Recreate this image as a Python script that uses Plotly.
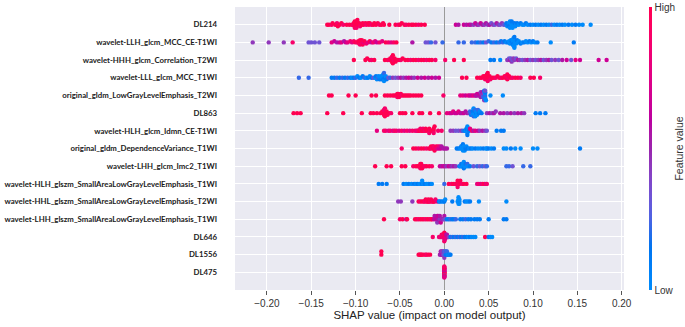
import numpy as np
import plotly.graph_objects as go

# ---------------- data (SHAP values in thousandths, feature value 0-9) ----------------
features = [
    "DL214",
    "wavelet-LLH_glcm_MCC_CE-T1WI",
    "wavelet-HHH_glcm_Correlation_T2WI",
    "wavelet-LLL_glcm_MCC_T1WI",
    "original_gldm_LowGrayLevelEmphasis_T2WI",
    "DL863",
    "wavelet-HLH_glcm_Idmn_CE-T1WI",
    "original_gldm_DependenceVariance_T1WI",
    "wavelet-LHH_glcm_Imc2_T1WI",
    "wavelet-HLH_glszm_SmallAreaLowGrayLevelEmphasis_T1WI",
    "wavelet-HHL_glszm_SmallAreaLowGrayLevelEmphasis_T2WI",
    "wavelet-LHH_glszm_SmallAreaLowGrayLevelEmphasis_T1WI",
    "DL646",
    "DL1556",
    "DL475",
]

x_ticks = [-0.20, -0.15, -0.10, -0.05, 0.00, 0.05, 0.10, 0.15, 0.20]

dl214 = [(-132,9),(-130,9),(-127,8),(-126,9),(-123,9),(-121,9),(-121,8),(-120,9),(-118,9),(-116,9),(-114,8),(-110,9),(-107,9),(-104,9),(-103,8),(-102,9),(-101,9),(-101,9),(-101,8),(-100,9),(-100,9),(-100,9),(-99,9),(-99,8),(-98,9),(-97,9),(-96,9),(-95,8),(-93,9),(-92,9),(-91,9),(-89,9),(-88,8),(-86,9),(-85,9),(-84,9),(-82,8),(-80,9),(-79,9),(-77,9),(-75,9),(-73,8),(-71,9),(-69,9),(-68,9),(-62,9),(-55,9),(-52,8),(-50,9),(-48,9),(-45,9),(-43,8),(-40,9),(-37,9),(-35,9),(-32,9),(-29,8),(-26,9),(-22,9),
         (13,6),(16,5),(22,6),(25,5),(28,6),(30,5),(33,4),(35,6),(37,5),(39,4),(41,6),(43,5),(45,4),(47,5),(49,4),(51,5),(53,3),(55,4),(57,3),(59,5),(61,4),(63,3),(65,4),(67,3),(69,2),(70,1),(71,0),(72,1),(73,0),(73,1),(74,0),(74,0),(75,1),(75,0),(76,0),(76,1),(77,0),(78,0),(79,1),(80,0),(81,0),(82,1),(84,0),(86,1),(88,0),(90,0),(92,1),(94,0),(97,1),(100,0),(103,1),(106,0),(109,1),(112,0),(115,1),(118,0),(121,2),(124,0),(127,1),(130,0),(133,1),(136,0),(140,1),(144,0),(148,1),(152,0),(156,0),(165,0)]

llh_mcc_ce = [(-216,4),(-198,4),(-181,4),(-171,8),(-153,3),(-150,3),(-146,3),(-141,3),(-127,7),(-124,6),(-121,5),(-118,6),(-116,7),(-113,5),(-111,6),(-109,7),(-106,8),(-104,7),(-102,8),(-100,9),(-98,8),(-97,9),(-96,9),(-95,9),(-95,8),(-94,9),(-94,9),(-93,8),(-93,9),(-92,9),(-91,7),(-90,9),(-88,8),(-86,7),(-84,9),(-82,6),(-80,8),(-78,7),(-76,6),(-73,8),(-70,7),(-66,9),(-63,8),(-60,7),(-57,8),(-54,9),(-36,5),(-21,3),(-18,3),(-15,2),(-10,3),(-2,2),(16,2),(22,2),
              (31,2),(35,2),(38,1),(41,2),(44,1),(47,3),(50,2),(53,1),(56,2),(59,1),(62,2),(64,1),(66,2),(68,1),(70,0),(72,1),(73,0),(74,0),(75,0),(76,0),(76,1),(77,0),(77,0),(77,1),(78,0),(78,0),(78,0),(79,0),(79,1),(79,0),(80,0),(80,0),(81,0),(82,1),(83,0),(84,0),(86,1),(88,0),(90,1),(92,0),(94,0),(96,1),(98,0),(100,1),(102,0),(105,1),(120,0),(146,1)]

hhh_corr = [(-102,9),(-89,9),(-87,9),(-84,9),(-82,8),(-79,9),(-67,9),(-64,9),(-62,8),(-61,9),(-60,9),(-59,9),(-59,9),(-59,8),(-58,9),(-58,9),(-57,8),(-56,9),(-55,9),(-53,9),(-51,9),(-49,8),(-47,9),(-44,9),(-41,9),(-38,8),(-35,9),(-32,9),(-29,8),(-26,9),(-23,9),(-20,8),(-17,9),(-14,9),(-10,8),(1,8),(11,9),(22,9),
            (52,1),(56,1),(63,0),(71,4),(73,3),(74,5),(75,3),(76,4),(77,3),(78,4),(79,4),(81,3),(83,5),(85,4),(88,3),(91,4),(94,5),(97,3),(100,4),(103,3),(106,4),(109,5),(112,3),(115,4),(118,5),(121,3),(125,4),(129,3),(133,5),(138,6),(143,3),(148,7),(153,6),(174,6),(183,6)]

lll_mcc = [(-164,2),(-153,2),(-127,1),(-124,1),(-121,2),(-118,1),(-115,2),(-112,1),(-109,2),(-106,1),(-104,0),(-102,1),(-100,2),(-98,0),(-96,1),(-94,0),(-92,1),(-90,2),(-88,0),(-86,1),(-84,0),(-82,1),(-80,3),(-78,0),(-77,1),(-76,0),(-75,2),(-74,0),(-73,1),(-72,0),(-71,0),(-71,1),(-70,0),(-70,0),(-69,1),(-69,0),(-68,0),(-68,2),(-67,1),(-66,0),(-65,1),(-63,3),(-61,2),(-58,4),(-55,3),(-52,4),(-49,5),(-46,4),(-43,5),(-40,6),(-37,5),(-34,4),(-30,6),(-26,5),(-22,6),(-18,5),(-14,6),(-10,5),(-6,6),
           (20,9),(25,9),(37,9),(40,9),(42,9),(44,9),(45,9),(46,9),(46,8),(47,9),(47,9),(48,9),(48,9),(49,8),(49,9),(50,9),(51,9),(52,8),(54,9),(56,9),(58,8),(60,9),(62,9),(64,8),(66,9),(68,9),(69,9),(70,8),(71,9),(71,9),(72,8),(73,9),(75,9),(77,8),(80,9),(83,9),(86,8),(97,9),(101,9),(108,8)]

low_gray = [(-130,9),(-127,9),(-108,9),(-100,9),(-82,9),(-77,9),(-67,9),(-64,9),(-61,9),(-58,9),(-56,9),(-54,9),(-53,9),(-53,8),(-52,9),(-52,9),(-51,9),(-50,9),(-49,9),(-48,8),(-46,9),(-44,9),(-42,9),(-40,9),(-38,9),(-35,9),(-32,9),(-29,9),(-26,9),(-1,8),
            (18,7),(21,7),(24,6),(27,7),(29,6),(31,6),(33,7),(35,6),(36,5),(37,6),(38,5),(39,6),(40,5),(40,6),(41,5),(41,4),(42,5),(42,4),(43,4),(43,5),(44,3),(44,4),(44,2),(45,3),(45,2),(45,1),(45,4),(46,1),(46,0),(46,2),(46,1),(46,0),(46,3),(47,0),(52,0),(66,0)]

dl863 = [(-170,9),(-166,9),(-162,9),(-132,9),(-114,9),(-93,9),(-83,9),(-80,9),(-76,9),(-72,9),(-70,9),(-69,9),(-68,9),(-68,9),(-68,8),(-67,9),(-67,8),(-66,9),(-65,9),(-64,9),(-62,9),(-60,8),(-50,9),(-47,9),(-44,9),(-36,9),(-28,9),(-25,9),(-16,9),(-6,9),
         (3,7),(6,7),(8,6),(10,7),(12,6),(14,6),(16,7),(18,6),(20,5),(22,6),(24,5),(26,5),(28,4),(29,2),(30,1),(31,2),(32,1),(32,0),(33,1),(33,2),(33,0),(34,0),(34,1),(34,0),(35,2),(35,0),(36,1),(36,0),(37,0),(38,2),(39,1),(40,0),(42,1),(48,4),(51,5),(54,4),(56,5),(58,4),(63,5),(67,5),(71,4),(75,5),(79,4),(83,5),(87,5),(90,4),(103,1),(108,1),(114,1)]

hlh_idmn = [(-76,7),(-68,8),(-66,8),(-63,7),(-61,8),(-58,7),(-56,8),(-54,8),(-51,7),(-48,8),(-45,7),(-42,8),(-39,7),(-36,8),(-33,8),(-31,7),(-30,8),(-29,8),(-28,9),(-27,8),(-26,8),(-25,9),(-24,8),(-23,9),(-22,8),(-21,9),(-20,9),(-17,9),(-17,9),(-17,8),(-16,8),(-15,9),(-12,9),(-12,9),(-12,8),(-11,9),(-7,8),(-3,8),
            (7,4),(10,4),(13,3),(16,3),(19,4),(21,2),(23,1),(24,0),(25,0),(25,1),(26,0),(26,0),(26,1),(27,0),(27,0),(28,1),(29,7),(31,8),(33,5),(35,7),(38,6),(40,4),(43,5),(46,4),(48,3),(59,1),(64,1),(67,1)]

dep_var = [(-48,8),(-35,9),(-32,9),(-29,8),(-26,9),(-23,9),(-20,8),(-17,9),(-16,9),(-15,9),(-14,8),(-13,9),(-12,9),(-12,8),(-11,9),(-10,8),(-9,9),(-8,7),(-7,8),(-6,6),(-5,7),(-4,6),(-3,5),(-1,5),(1,5),(3,5),
           (14,1),(16,1),(18,0),(19,1),(20,0),(20,0),(21,0),(21,1),(22,0),(22,0),(23,0),(24,1),(25,0),(26,1),(28,0),(30,1),(32,0),(35,1),(38,0),(41,0),(44,1),(47,0),(48,0),(50,1),(53,0),(56,1),(67,0),(70,0),(75,1),(80,0),(86,0),(100,0),(105,0),(153,1)]

lhh_imc2 = [(-78,9),(-65,9),(-60,9),(-48,9),(-44,9),(-35,8),(-32,9),(-30,9),(-28,9),(-27,9),(-27,8),(-26,9),(-26,9),(-25,9),(-24,9),(-22,8),(-20,9),(-17,9),(-14,8),(-5,6),(-3,5),(-1,6),(1,5),(3,4),(5,6),(7,5),(9,4),(11,5),(13,4),
            (17,1),(18,0),(19,2),(20,0),(20,1),(21,0),(21,0),(22,1),(22,0),(23,0),(24,1),(25,0),(26,2),(27,0),(29,1),(33,3),(37,2),(40,3),(43,2),(46,3),(48,2),(70,2),(73,2),(77,3),(89,2),(97,2)]

hlh_glszm = [(-74,1),(-70,1),(-65,1),(-46,1),(-43,0),(-40,1),(-37,0),(-34,1),(-32,0),(-30,1),(-28,0),(-26,0),(-25,1),(-25,0),(-24,0),(-23,0),(-22,1),(-20,0),(-18,0),(-16,1),(-14,0),(0,2),
             (5,9),(8,8),(10,9),(12,9),(13,8),(14,9),(15,9),(15,9),(15,8),(16,8),(17,9),(18,9),(20,8),(22,9),(25,9),(37,7),(39,8),(41,7),(43,8),(45,9),(47,7),(48,8)]

hhl_glszm = [(-52,4),(-49,4),(-36,4),(-29,9),(-27,8),(-25,9),(-23,9),(-22,8),(-21,9),(-20,9),(-19,8),(-18,9),(-18,9),(-17,9),(-16,8),(-15,9),(-14,9),(-13,8),(-12,9),(-11,9),(-10,8),(-8,7),(-6,1),(-5,0),(-3,1),(-1,0),(0,1),(1,0),(9,1),
             (15,0),(16,0),(16,0),(16,0),(16,0),(17,0),(17,0),(17,0),(23,1),(25,0),(27,0),(29,1),(39,0),(70,0)]

lhh_glszm = [(-68,9),(-50,8),(-47,9),(-43,5),(-42,9),(-33,9),(-31,9),(-29,8),(-27,9),(-25,9),(-23,9),(-21,8),(-19,9),(-17,9),(-15,8),(-14,9),(-12,6),(-11,5),(-10,5),(-9,6),(-8,5),(-8,4),(-7,5),(-7,6),(-6,5),(-5,4),(-5,5),(-4,6),(-3,4),(-2,5),(-1,4),(0,5),(1,3),
             (3,1),(5,1),(7,2),(9,1),(11,1),(13,2),(18,1),(21,1),(24,2),(27,1),(30,1),(34,1),(37,1),(40,1),(50,1),(67,1),(70,1)]

dl646 = [(-13,8),(-6,7),(-5,8),(-4,7),(-3,9),(-3,8),(-2,7),(-2,9),(-1,8),(-1,7),(0,9),(0,8),(0,7),(0,9),(0,8),(1,8),(1,9),(1,7),(2,8),(2,6),(3,7),(3,5),(4,6),(5,4),
         (7,1),(9,2),(11,1),(13,2),(15,1),(17,2),(19,1),(21,2),(23,1),(25,1),(27,0),(29,1),(31,0),(33,0),(35,0),(46,9),(50,1),(52,0),(54,0)]

dl1556 = [(-71,9),(-71,9),(-29,9),(-28,9),(-27,9),(-26,9),(-25,9),(-23,9),(-21,9),(-20,8),(-18,9),(-16,9),
          (-5,5),(-4,4),(-4,5),(-3,5),(-3,4),(-2,5),(-2,4),(-1,3),(-1,4),(0,3),(0,2),(0,4),(1,2),(1,3),(2,1),(2,2),(3,1),(3,2),(4,0),(5,1),(6,0),(7,1)]

dl475 = [(0,9),(0,8),(0,9),(0,7),(0,9),(0,6),(0,8),(0,5),(0,9),(0,7),(0,4),(0,8),(0,9),(0,6),(0,7),(0,8),(0,5),(0,9),(0,7),(0,8)]

rows = [dl214, llh_mcc_ce, hhh_corr, lll_mcc, low_gray, dl863, hlh_idmn, dep_var,
        lhh_imc2, hlh_glszm, hhl_glszm, lhh_glszm, dl646, dl1556, dl475]


# ---------------- SHAP red_blue colour map (LCh path) ----------------
def lch_to_rgb(L, C, H):
    a = C * np.cos(H)
    b = C * np.sin(H)
    fy = (L + 16) / 116
    fx = fy + a / 500
    fz = max(fy - b / 200, 0)

    def f(t):
        return t ** 3 if t > 0.2068966 else (t - 16 / 116) / 7.787

    X, Y, Z = 0.95047 * f(fx), f(fy), 1.08883 * f(fz)
    lin = [3.2404542 * X - 1.5371385 * Y - 0.4985314 * Z,
           -0.9692660 * X + 1.8760108 * Y + 0.0415560 * Z,
           0.0556434 * X - 0.2040259 * Y + 1.0572252 * Z]
    out = []
    for u in lin:
        u = 1.055 * u ** (1 / 2.4) - 0.055 if u > 0.0031308 else 12.92 * u
        out.append(int(round(255 * min(max(u, 0), 1))))
    return out


colorscale = []
for t in np.linspace(0, 1, 21):
    L = 54 - 28 * t if t <= 0.5 else 40 + 28 * (t - 0.5)
    C = 70 + 20 * t
    H = 4.6588 + t * (0.35470565 + 2 * np.pi - 4.6588)
    r, g, b = lch_to_rgb(L, C, H)
    colorscale.append([float(t), f"rgb({r},{g},{b})"])


# ---------------- beeswarm layout (as in shap.summary_plot) ----------------
def swarm_offsets(vals, row_height=0.4, nbins=100):
    vals = np.asarray(vals, float)
    quant = np.round(nbins * (vals - vals.min()) / (vals.max() - vals.min() + 1e-8))
    order = np.argsort(quant, kind="stable")
    ys = np.zeros(len(vals))
    layer, last = 0, None
    for i in order:
        if quant[i] != last:
            layer = 0
        ys[i] = np.ceil(layer / 2) * ((layer % 2) * 2 - 1)
        layer += 1
        last = quant[i]
    ys *= 0.9 * (row_height / np.max(ys + 1))
    return ys


n = len(features)
xs, ys, cs = [], [], []
for i, row in enumerate(rows):
    v = np.array([p[0] for p in row]) / 1000.0
    c = np.array([p[1] for p in row]) / 9.0
    off = swarm_offsets(v)
    xs.extend(v)
    ys.extend((n - 1 - i) + off)
    cs.extend(c)

FONT = "Liberation Sans, Arial"

fig = go.Figure()
fig.add_trace(go.Scatter(
    x=xs, y=ys, mode="markers", hoverinfo="skip",
    marker=dict(
        size=4.4, color=cs, colorscale=colorscale, cmin=0, cmax=1,
        line=dict(width=0),
        colorbar=dict(
            thickness=3, len=1, lenmode="fraction", y=0.5, yanchor="middle",
            x=1.064, xanchor="left", xpad=0, ypad=0, outlinewidth=0,
            tickvals=[0, 1], ticktext=["Low", "High"], ticks="",
            tickfont=dict(family=FONT, size=10, color="#333333"),
        ),
    ),
))

fig.add_annotation(
    text="Feature value", xref="paper", yref="paper", x=1.139, y=0.5,
    xanchor="center", yanchor="middle", textangle=-90, showarrow=False,
    font=dict(family=FONT, size=10.5, color="#333333"),
)

fig.update_layout(
    width=685, height=327,
    margin=dict(l=235, r=61, t=7, b=37),
    plot_bgcolor="#eaeaf2", paper_bgcolor="white",
    showlegend=False,
    xaxis=dict(
        range=[-0.236, 0.2026], tickvals=x_ticks, tickformat=".2f",
        showgrid=True, gridcolor="white", gridwidth=1,
        zeroline=True, zerolinecolor="#9a9a9a", zerolinewidth=1,
        ticks="outside", ticklen=4, tickcolor="#555555", tickwidth=1,
        tickfont=dict(family=FONT, size=10, color="#333333"),
        title=dict(text="SHAP value (impact on model output)", standoff=0,
                   font=dict(family=FONT, size=11.5, color="#222222")),
        showline=False, automargin=False,
    ),
    yaxis=dict(
        range=[-1, n], tickvals=list(range(n)),
        ticktext=[f"<b>{f}</b>" for f in features[::-1]],
        showgrid=True, gridcolor="white", gridwidth=1, zeroline=False,
        ticks="", ticklabelstandoff=17,
        tickfont=dict(family="Lato", size=7.8, color="#1a1a1a"),
        showline=False, automargin=False,
    ),
)

fig.write_html("out.html", config={"displayModeBar": False},
               post_script="document.body.style.margin='0';document.body.style.padding='0';")
